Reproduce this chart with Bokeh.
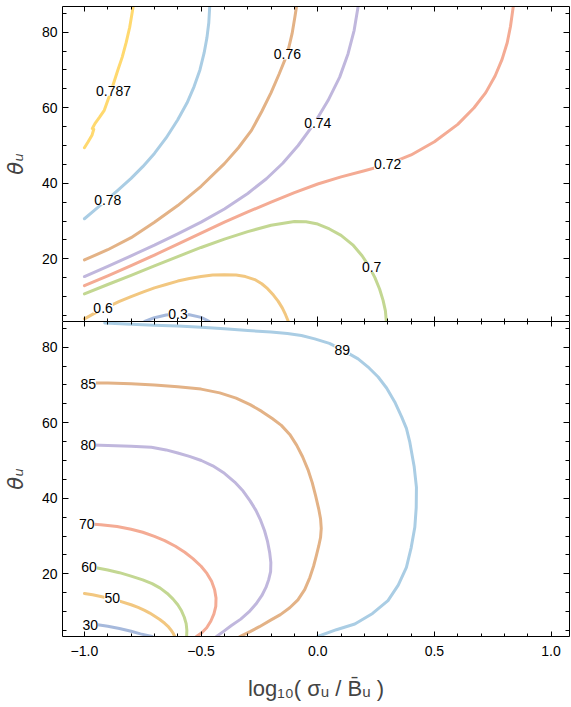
from bokeh.plotting import figure
from bokeh.layouts import column
from bokeh.models import LinearAxis, FixedTicker, Range1d, CustomLabelingPolicy
from bokeh.core.properties import value
from bokeh.embed import file_html
from bokeh.resources import INLINE

# ---- axes ----------------------------------------------------------------
x_ticks = [-1.0, -0.5, 0.0, 0.5, 1.0]
x_tick_labels = ["\u22121.0", "\u22120.5", "0.0", "0.5", "1.0"]
x_minor = [-1.0, -0.9, -0.8, -0.7, -0.6, -0.5, -0.4, -0.3, -0.2, -0.1, 0.0,
           0.1, 0.2, 0.3, 0.4, 0.5, 0.6, 0.7, 0.8, 0.9, 1.0]
y_ticks = [20, 40, 60, 80]
y_minor = [5, 10, 15, 20, 25, 30, 35, 40, 45, 50, 55, 60, 65, 70, 75, 80, 85]

# ---- upper panel: contour lines --------------------------------------------
upper_levels = ["0.3", "0.6", "0.7", "0.72", "0.74", "0.76", "0.78", "0.787"]

u030_x = [-0.742, -0.70, -0.65, -0.6, -0.55, -0.5, -0.464]
u030_y = [3.4, 4.4, 5.1, 5.4, 5.2, 4.5, 3.4]

u060_x = [-1.0, -0.95, -0.9, -0.85, -0.8, -0.75, -0.7, -0.65, -0.6, -0.55,
          -0.5, -0.45, -0.4, -0.35, -0.31, -0.27, -0.24, -0.215, -0.19,
          -0.17, -0.152, -0.138, -0.126]
u060_y = [4.1, 5.8, 7.3, 8.7, 10.0, 11.2, 12.3, 13.2, 14.1, 14.8,
          15.3, 15.7, 15.8, 15.7, 15.3, 14.5, 13.4, 12.1, 10.4,
          8.8, 7.0, 5.2, 3.4]

u070_x = [-1.0, -0.9, -0.8, -0.7, -0.6, -0.5, -0.4, -0.3, -0.2, -0.1, -0.05,
          0.0, 0.05, 0.1, 0.15, 0.19, 0.22, 0.245, 0.265, 0.28, 0.29, 0.294]
u070_y = [10.7, 13.2, 15.6, 18.1, 20.6, 23.0, 25.2, 27.2, 28.9, 29.9, 29.8,
          29.2, 27.9, 26.2, 23.7, 20.8, 18.0, 15.0, 12.0, 9.0, 6.2, 3.4]

u072_x = [-1.0, -0.9, -0.8, -0.7, -0.6, -0.5, -0.4, -0.3, -0.2, -0.1, 0.0,
          0.1, 0.2, 0.3, 0.4, 0.5, 0.6, 0.67, 0.72, 0.76, 0.79, 0.812,
          0.826, 0.838]
u072_y = [12.9, 15.5, 18.2, 21.0, 23.9, 26.8, 29.7, 32.4, 35.0, 37.5, 39.8,
          41.7, 43.3, 45.0, 47.5, 51.0, 55.6, 60.0, 64.0, 68.4, 72.8, 77.2,
          81.5, 86.8]

u074_x = [-1.0, -0.9, -0.8, -0.7, -0.6, -0.5, -0.4, -0.3, -0.22, -0.15,
          -0.084, -0.013, 0.044, 0.094, 0.13, 0.156, 0.173]
u074_y = [15.3, 18.0, 20.8, 23.6, 26.6, 29.7, 33.2, 37.3, 41.2, 45.3,
          50.0, 56.0, 61.9, 68.1, 74.3, 80.5, 86.8]

u076_x = [-1.0, -0.9, -0.8, -0.7, -0.6, -0.5, -0.4, -0.34, -0.284, -0.24,
          -0.2, -0.165, -0.14, -0.127, -0.11, -0.098, -0.091]
u076_y = [19.7, 22.4, 25.6, 29.7, 34.1, 39.2, 45.2, 49.4, 54.0, 59.0,
          64.0, 69.0, 72.8, 75.2, 79.6, 84.0, 86.8]

u078_x = [-1.0, -0.95, -0.9, -0.85, -0.8, -0.75, -0.7, -0.65, -0.6, -0.56,
          -0.53, -0.505, -0.487, -0.475, -0.467, -0.463]
u078_y = [30.6, 33.2, 35.8, 38.5, 41.3, 44.4, 47.9, 52.0, 56.8, 61.3,
          65.6, 70.0, 74.5, 78.5, 82.5, 86.8]

u0787_x = [-1.0, -0.984, -0.967, -0.960, -0.966, -0.955, -0.935, -0.915, -0.895,
           -0.876, -0.857, -0.838, -0.821, -0.806, -0.791]
u0787_y = [49.4, 51.0, 52.8, 54.3, 54.5, 55.8, 57.5, 59.3, 62.8,
           66.3, 69.9, 73.4, 77.3, 81.3, 86.8]

upper_lines_x = [u030_x, u060_x, u070_x, u072_x, u074_x, u076_x, u078_x, u0787_x]
upper_lines_y = [u030_y, u060_y, u070_y, u072_y, u074_y, u076_y, u078_y, u0787_y]

# label anchor points on the upper contours
upper_label_x = [-0.599, -0.92, 0.231, 0.30, 0.0, -0.13, -0.90, -0.875]
upper_label_y = [5.5, 7.0, 17.8, 45.0, 55.9, 74.1, 35.6, 64.5]

# ---- lower panel: contour lines --------------------------------------------
lower_levels = ["30", "50", "60", "70", "80", "85", "89"]

l30_x = [-1.0, -0.95, -0.9, -0.85, -0.8, -0.76, -0.71]
l30_y = [6.9, 6.6, 6.1, 5.5, 4.8, 4.1, 3.4]

l50_x = [-1.0, -0.965, -0.93, -0.856, -0.80, -0.77, -0.742, -0.72, -0.70,
         -0.677, -0.656, -0.642, -0.63, -0.62, -0.613]
l50_y = [14.8, 14.45, 14.0, 12.9, 11.8, 11.1, 10.3, 9.6, 8.8,
         7.9, 6.9, 6.1, 5.2, 4.3, 3.4]

l60_x = [-1.0, -0.95, -0.9, -0.85, -0.8, -0.75, -0.71, -0.675, -0.645,
         -0.62, -0.6, -0.584, -0.572, -0.564, -0.561, -0.562]
l60_y = [22.0, 21.6, 21.0, 20.3, 19.4, 18.4, 17.4, 16.2, 14.8,
         13.3, 11.8, 10.2, 8.5, 6.8, 5.1, 3.4]

l70_x = [-1.0, -0.93, -0.86, -0.8, -0.75, -0.7, -0.656, -0.61, -0.57, -0.535,
         -0.5, -0.475, -0.455, -0.442, -0.436, -0.437, -0.445, -0.458,
         -0.476, -0.497, -0.52]
l70_y = [33.3, 33.0, 32.5, 31.8, 31.0, 29.9, 28.8, 27.3, 25.7, 24.0,
         22.0, 20.1, 18.0, 15.8, 13.6, 11.4, 9.4, 7.5,
         5.7, 4.4, 3.4]

l80_x = [-1.0, -0.9, -0.8, -0.713, -0.65, -0.6, -0.55, -0.499, -0.45, -0.4,
         -0.356, -0.32, -0.29, -0.265, -0.245, -0.228, -0.215, -0.206,
         -0.201, -0.202, -0.21, -0.222, -0.24, -0.265, -0.295, -0.33,
         -0.37, -0.405, -0.434]
l80_y = [54.2, 54.0, 53.8, 53.5, 52.8, 52.0, 51.1, 50.0, 48.6, 46.6,
         44.3, 41.9, 39.3, 36.8, 34.2, 31.4, 28.5, 25.6,
         23.0, 20.6, 18.5, 16.4, 14.2, 12.0, 9.9, 8.0,
         6.3, 4.7, 3.4]

l85_x = [-1.0, -0.9, -0.8, -0.7, -0.6, -0.5, -0.42, -0.35, -0.29, -0.24,
         -0.195, -0.156, -0.12, -0.09, -0.065, -0.042, -0.024, -0.009,
         0.004, 0.012, 0.015, 0.012, 0.004, -0.006, -0.018, -0.034, -0.056,
         -0.085, -0.12, -0.16, -0.2, -0.25, -0.29, -0.334]
l85_y = [70.5, 70.5, 70.3, 70.0, 69.5, 68.9, 67.9, 66.5, 64.8, 63.0,
         61.1, 59.3, 56.9, 54.0, 51.0, 47.6, 44.2, 40.6,
         37.2, 34.6, 32.0, 29.6, 27.3, 24.8, 22.0, 19.0, 15.8,
         13.1, 11.0, 9.2, 7.8, 6.0, 4.7, 3.4]

l89_x = [-0.913, -0.8, -0.7, -0.6, -0.499, -0.4, -0.3, -0.2, -0.13,
         -0.07, -0.013, 0.05, 0.105, 0.173, 0.22, 0.259, 0.295, 0.33,
         0.36, 0.38, 0.394, 0.413, 0.423, 0.422, 0.416, 0.40, 0.38,
         0.345, 0.301, 0.235, 0.159, 0.08, 0.0]
l89_y = [86.4, 86.1, 85.8, 85.6, 85.3, 84.9, 84.4, 84.0, 83.6,
         83.1, 82.2, 81.0, 79.3, 76.9, 74.5, 72.1, 69.2, 65.5,
         61.5, 58.5, 55.0, 48.5, 42.9, 37.5, 32.3, 26.8, 21.7,
         17.0, 12.9, 9.5, 6.7, 5.2, 3.4]

lower_lines_x = [l30_x, l50_x, l60_x, l70_x, l80_x, l85_x, l89_x]
lower_lines_y = [l30_y, l50_y, l60_y, l70_y, l80_y, l85_y, l89_y]

lower_label_x = [-0.975, -0.881, -0.98, -0.99, -0.984, -0.984, 0.105]
lower_label_y = [6.5, 13.6, 21.7, 33.2, 54.1, 70.3, 79.3]

# ---- styling -------------------------------------------------------------
upper_colors = ["#a6b9dc", "#f2c780", "#c3d792", "#f4ab94",
                "#c0b7dd", "#e3b286", "#aacde4", "#ffd96f"]
lower_colors = ["#a6b9dc", "#f2c780", "#c3d792", "#f4ab94",
                "#c0b7dd", "#e3b286", "#aacde4"]

FONT = "Liberation Sans"
X_RANGE = (-1.094, 1.079)
Y_RANGE = (3.4, 86.8)

# frame sides that carry ticks but no numbers
NO_LABELS = "for (const i of indices) indices.unset(i); return indices"


def style_axis(ax, ticks, minor, show_labels, tick_in, minor_in):
    ax.ticker = FixedTicker(ticks=ticks, minor_ticks=minor)
    ax.major_tick_in = tick_in
    ax.major_tick_out = 0
    ax.minor_tick_in = minor_in
    ax.minor_tick_out = 0
    ax.axis_line_color = "black"
    ax.axis_line_width = 1
    ax.major_tick_line_color = "black"
    ax.minor_tick_line_color = "black"
    if show_labels:
        ax.major_label_text_font = FONT
        ax.major_label_text_font_size = "14px"
        ax.major_label_text_color = "black"
    else:
        ax.major_label_text_font_size = "0px"
        ax.major_label_standoff = 0
        ax.major_label_policy = CustomLabelingPolicy(code=NO_LABELS)


def make_panel(lines_x, lines_y, colors, levels, lab_x, lab_y, bottom):
    p = figure(frame_width=507, frame_height=315,
               x_range=Range1d(*X_RANGE), y_range=Range1d(*Y_RANGE),
               output_backend="svg", toolbar_location=None,
               min_border_left=61, min_border_right=3,
               min_border_top=0 if bottom else 6,
               min_border_bottom=0,
               background_fill_color="white", border_fill_color="white")
    p.outline_line_color = None
    p.grid.visible = False

    # left axis with labels
    yl = p.yaxis[0]
    style_axis(yl, y_ticks, y_minor, True, 6, 4)
    yl.axis_label = "\u03b8\u1d64"
    yl.axis_label_text_font = "DejaVu Sans"
    yl.axis_label_text_font_style = "italic"
    yl.axis_label_text_font_size = "21px"
    yl.axis_label_standoff = 11

    # bottom axis
    xb = p.xaxis[0]
    style_axis(xb, x_ticks, x_minor, bottom, 5, 3)
    if bottom:
        xb.major_label_overrides = dict(zip(x_ticks, x_tick_labels))
        xb.major_label_standoff = 9
        xb.axis_label = "log\u2081\u2080( \u03c3\u1d64 / B\u0304\u1d64 )"
        xb.axis_label_text_font = FONT
        xb.axis_label_text_font_style = "normal"
        xb.axis_label_text_font_size = "22px"
        xb.axis_label_standoff = 17

    # right and top frame axes (ticks only)
    yr = LinearAxis()
    style_axis(yr, y_ticks, y_minor, False, 6, 4)
    p.add_layout(yr, "right")
    xt = LinearAxis()
    style_axis(xt, x_ticks, x_minor, False, 5, 3)
    p.add_layout(xt, "above")

    for xs, ys, c in zip(lines_x, lines_y, colors):
        p.line(xs, ys, line_color=c, line_width=3, line_cap="round",
               line_join="round")

    p.text(x=lab_x, y=lab_y, text=levels,
           text_font=value(FONT), text_font_size="14px", text_color="black",
           text_align="center", text_baseline="middle",
           background_fill_color="white", background_fill_alpha=1.0,
           padding=0)
    return p


top = make_panel(upper_lines_x, upper_lines_y, upper_colors, upper_levels,
                 upper_label_x, upper_label_y, bottom=False)
bot = make_panel(lower_lines_x, lower_lines_y, lower_colors, lower_levels,
                 lower_label_x, lower_label_y, bottom=True)

layout = column(top, bot, spacing=0)
open("out.html", "w").write(file_html(layout, INLINE))
